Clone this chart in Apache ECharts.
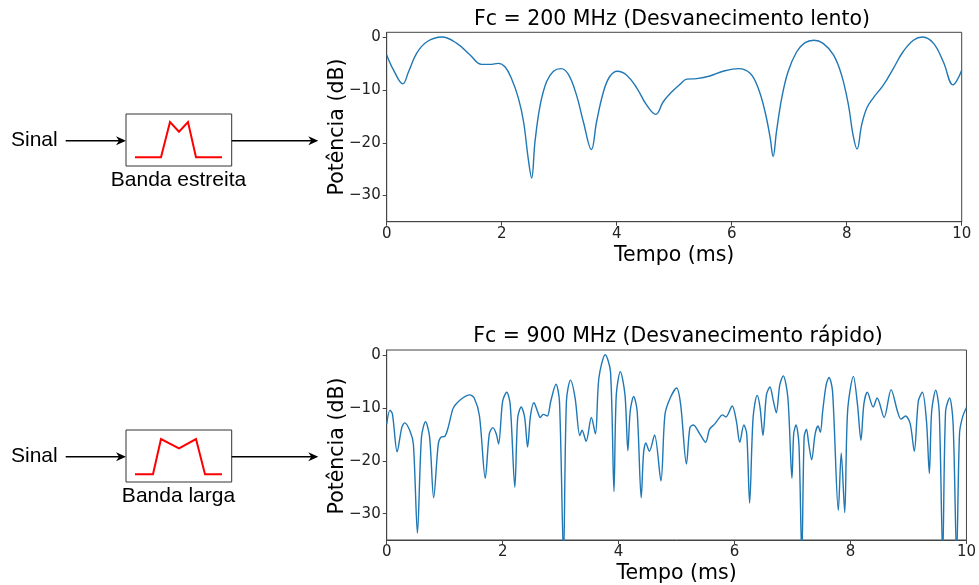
<!DOCTYPE html>
<html>
<head>
<meta charset="utf-8">
<script src="https://cdn.jsdelivr.net/npm/echarts@6/dist/echarts.min.js"></script>
<style>
html,body{margin:0;padding:0;background:#fff;}
#chart{width:979px;height:585px;}
</style>
</head>
<body>
<div id="chart"></div>
<script>
// ---- Data ----
const slowTitle = 'Fc = 200 MHz (Desvanecimento lento)';
const fastTitle = 'Fc = 900 MHz (Desvanecimento rápido)';
const xLabel = 'Tempo (ms)';
const yLabel = 'Potência (dB)';
const yTicks = [-30, -20, -10, 0];
const diagramTop = ['Sinal', 'Banda estreita'];
const diagramBottom = ['Sinal', 'Banda larga'];

const slowTime = [0, 0.12, 0.28, 0.38, 0.52, 0.70, 0.96, 1.22, 1.45, 1.65, 1.80, 1.94, 2.06, 2.17, 2.29, 2.38, 2.46, 2.52, 2.58, 2.67, 2.78, 2.90, 3.03, 3.16, 3.30, 3.42, 3.56, 3.65, 3.77, 3.88, 4.01, 4.17, 4.35, 4.52, 4.68, 4.81, 4.96, 5.10, 5.22, 5.39, 5.62, 5.85, 6.12, 6.32, 6.46, 6.58, 6.67, 6.72, 6.78, 6.87, 6.98, 7.13, 7.27, 7.43, 7.59, 7.77, 7.91, 8.03, 8.11, 8.18, 8.26, 8.35, 8.46, 8.64, 8.81, 8.98, 9.16, 9.32, 9.51, 9.68, 9.85, 9.92, 10.0];
const slowPower = [-3.3, -6.2, -8.8, -6.5, -3.0, -0.8, 0.1, -1.1, -3.3, -5.1, -5.1, -4.9, -5.6, -7.8, -11.5, -16, -22.9, -26.7, -19.7, -12.8, -8.4, -6.4, -5.9, -7.0, -10.9, -16, -21.3, -16, -10.3, -7.4, -6.4, -7.1, -9.6, -12.8, -14.6, -12.2, -10.3, -8.9, -7.9, -7.8, -7.3, -6.4, -5.9, -6.8, -9.6, -14.1, -19.1, -22.6, -17.8, -11.5, -6.5, -2.7, -1.0, -0.5, -1.1, -3.3, -7.1, -12.8, -18.5, -21.2, -16.6, -13.4, -11.5, -9.0, -5.9, -2.7, -0.5, 0.1, -1.1, -4.6, -9.0, -8.1, -6.2];

const fastTime = [0.00, 0.057, 0.10, 0.18, 0.26, 0.31, 0.40, 0.46, 0.53, 0.60, 0.67, 0.74, 0.81, 0.89, 0.94, 1.00, 1.06, 1.14, 1.20, 1.31, 1.43, 1.51, 1.60, 1.70, 1.77, 1.83, 1.89, 1.93, 2.00, 2.07, 2.13, 2.21, 2.26, 2.32, 2.38, 2.43, 2.48, 2.54, 2.60, 2.65, 2.70, 2.77, 2.83, 2.92, 2.98, 3.05, 3.10, 3.17, 3.25, 3.33, 3.37, 3.44, 3.53, 3.60, 3.66, 3.77, 3.86, 3.92, 3.96, 4.03, 4.11, 4.16, 4.20, 4.26, 4.32, 4.39, 4.43, 4.47, 4.53, 4.62, 4.73, 4.80, 4.89, 5.00, 5.07, 5.17, 5.23, 5.29, 5.40, 5.50, 5.57, 5.66, 5.72, 5.79, 5.85, 5.96, 6.03, 6.09, 6.16, 6.21, 6.26, 6.32, 6.39, 6.44, 6.49, 6.55, 6.61, 6.67, 6.72, 6.78, 6.84, 6.92, 6.99, 7.02, 7.06, 7.11, 7.16, 7.20, 7.24, 7.28, 7.33, 7.39, 7.44, 7.48, 7.52, 7.58, 7.63, 7.69, 7.79, 7.84, 7.90, 7.95, 8.05, 8.12, 8.18, 8.23, 8.29, 8.39, 8.46, 8.58, 8.70, 8.81, 8.87, 8.95, 9.03, 9.10, 9.17, 9.24, 9.31, 9.36, 9.40, 9.47, 9.53, 9.59, 9.64, 9.71, 9.77, 9.83, 9.88, 9.93, 10.0];
const fastPower = [-13.0, -10.4, -11.2, -18.3, -13.7, -12.8, -14.3, -16.8, -33.7, -15.5, -12.6, -15.5, -27.0, -16.8, -15.5, -15.4, -13.7, -10.2, -9.2, -8.1, -7.5, -8.1, -11.5, -23.3, -14.9, -13.7, -14.9, -16.8, -8.7, -7.0, -9.3, -25.0, -11.8, -9.8, -11.8, -17.4, -11.5, -9.0, -10.6, -11.8, -11.2, -11.5, -8.7, -5.5, -8.7, -38, -8.7, -4.7, -8.1, -15.2, -14.2, -16.3, -11.8, -14.9, -4.3, 0.1, -3.1, -25.8, -7.5, -3.1, -7.5, -18.1, -10.6, -7.8, -10.6, -27.0, -18.6, -16.6, -18.2, -15.1, -23.8, -11.2, -8.1, -6.2, -9.3, -20.6, -13.7, -13.2, -14.9, -16.5, -14.0, -13.0, -12.1, -11.3, -11.7, -9.6, -12.4, -16.5, -13.2, -14.9, -28.0, -11.8, -7.6, -9.9, -15.2, -7.5, -6.0, -8.7, -10.9, -5.6, -3.9, -8.1, -23.3, -14.9, -13.2, -16.8, -38, -15.5, -14.0, -16.8, -19.8, -14.9, -13.4, -14.6, -10.6, -5.6, -4.2, -6.8, -29.4, -18.5, -29.8, -10.6, -4.0, -9.3, -16.1, -9.3, -7.0, -9.8, -8.1, -11.8, -6.5, -10.6, -12.1, -11.5, -13.0, -18.2, -8.7, -7.0, -12.4, -22.4, -10.6, -6.6, -10.6, -38, -10.6, -8.1, -13.0, -38, -14.9, -11.8, -9.9];

// ---- Chart ----
const chart = echarts.init(document.getElementById('chart'), null, {renderer: 'canvas'});
const zip = (a, b) => a.map((v, i) => [v, b[i]]);
const MPL = "'DejaVu Sans', sans-serif";
const ARIAL = "'Liberation Sans', Arial, sans-serif";
const LINE = '#1f77b4';
const fmt = v => String(v).replace('-', '\u2212');

function xAxisCfg(gi) {
  return {
    gridIndex: gi, type: 'value', min: 0, max: 10, interval: 2,
    name: xLabel, nameLocation: 'middle', nameGap: 23,
    nameTextStyle: {fontFamily: MPL, fontSize: 20.5, color: '#000'},
    axisLine: {show: true, onZero: false, lineStyle: {color: '#444', width: 1}},
    axisTick: {show: true, length: 4, lineStyle: {color: '#444'}},
    axisLabel: {fontFamily: MPL, fontSize: 15, color: '#222', margin: 5, formatter: fmt},
    splitLine: {show: false}
  };
}
function yAxisCfg(gi) {
  return {
    gridIndex: gi, type: 'value', min: -35, max: 1,
    axisLine: {show: true, lineStyle: {color: '#444', width: 1}},
    axisTick: {show: true, length: 4, customValues: yTicks, lineStyle: {color: '#444'}},
    axisLabel: {fontFamily: MPL, fontSize: 15, color: '#222', margin: 6, customValues: yTicks, formatter: fmt},
    splitLine: {show: false}
  };
}

// diagram graphics
function arrow(x1, x2, y) {
  return [
    {type: 'line', shape: {x1: x1, y1: y, x2: x2 - 6, y2: y}, style: {stroke: '#000', lineWidth: 1.5}},
    {type: 'polygon', shape: {points: [[x2, y], [x2 - 10, y - 4.5], [x2 - 7, y], [x2 - 10, y + 4.5]]}, style: {fill: '#000'}}
  ];
}
function block(top, labels, redPts) {
  const boxTop = top, boxH = 52, mid = top + 26.7;
  const els = [];
  els.push({type: 'text', x: 11, y: mid, style: {text: labels[0], font: '21px ' + ARIAL, fill: '#000', textVerticalAlign: 'middle'}});
  els.push(...arrow(65.7, 126, mid));
  els.push({type: 'rect', shape: {x: 126, y: boxTop, width: 105.7, height: boxH}, style: {fill: '#fff', stroke: '#333', lineWidth: 1}});
  els.push({type: 'polyline', shape: {points: redPts}, style: {stroke: '#ff0000', lineWidth: 2, fill: null}});
  els.push(...arrow(231.7, 318.3, mid));
  els.push({type: 'text', x: 178.5, y: boxTop + 66, style: {text: labels[1], font: '21px ' + ARIAL, fill: '#000', textAlign: 'center', textVerticalAlign: 'middle'}});
  return els;
}
function yName(cy) {
  return {type: 'text', x: 338, y: cy, rotation: Math.PI / 2, style: {text: yLabel, font: '20.5px ' + MPL, fill: '#000', textAlign: 'center', textVerticalAlign: 'middle'}};
}
const graphics = [].concat(
  block(114, diagramTop, [[135,157.3],[161,157.3],[170,122],[179,131.7],[188,122],[196,157.3],[222,157.3]]),
  block(430, diagramBottom, [[135,474.3],[153,474.3],[161,439],[179,448.3],[196,439],[205,474.3],[222,474.3]]),
  [
    {type: 'text', x: 672, y: 20, style: {text: slowTitle, font: '20.5px ' + MPL, fill: '#000', textAlign: 'center', textVerticalAlign: 'middle'}},
    {type: 'text', x: 678, y: 337, style: {text: fastTitle, font: '20.5px ' + MPL, fill: '#000', textAlign: 'center', textVerticalAlign: 'middle'}},
    yName(127), yName(446)
  ]
);

chart.setOption({
  animation: false,
  backgroundColor: '#fff',
  grid: [
    {left: 386.7, top: 32.3, width: 575, height: 189.4, show: true, borderColor: '#444', borderWidth: 1, backgroundColor: 'transparent', containLabel: false},
    {left: 386.7, top: 350, width: 583, height: 191.7, show: true, borderColor: '#444', borderWidth: 1, backgroundColor: 'transparent', containLabel: false}
  ],
  xAxis: [xAxisCfg(0), xAxisCfg(1)],
  yAxis: [yAxisCfg(0), yAxisCfg(1)],
  series: [
    {type: 'line', xAxisIndex: 0, yAxisIndex: 0, data: zip(slowTime, slowPower), showSymbol: false, smooth: 0.4, clip: true, lineStyle: {color: LINE, width: 1.4}},
    {type: 'line', xAxisIndex: 1, yAxisIndex: 1, data: zip(fastTime, fastPower), showSymbol: false, smooth: 0.3, clip: true, lineStyle: {color: LINE, width: 1.4}}
  ],
  graphic: graphics
});
</script>
</body>
</html>
